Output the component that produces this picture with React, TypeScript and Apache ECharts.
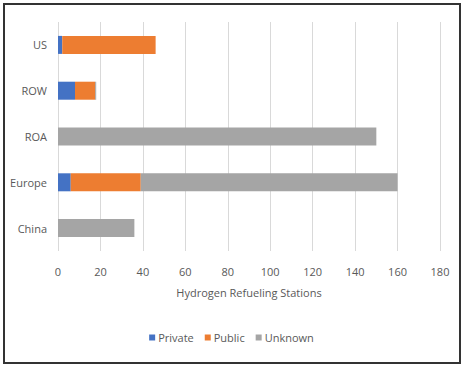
import React, { useEffect, useRef } from "react";
import * as echarts from "echarts";

const categories = ["China", "Europe", "ROA", "ROW", "US"];
const privateValues = [0, 6, 0, 8, 2];
const publicValues = [0, 33, 0, 9.5, 44];
const unknownValues = [36, 121, 150, 0.5, 0];
const seriesNames = ["Private", "Public", "Unknown"];
const colors = ["#4472C4", "#ED7D31", "#A5A5A5"];

const FONT = "'Open Sans', sans-serif";

export default function App() {
  const ref = useRef<HTMLDivElement>(null);
  useEffect(() => {
    if (!ref.current) return;
    const chart = echarts.init(ref.current, undefined, { renderer: "svg" });
    const values = [privateValues, publicValues, unknownValues];
    chart.setOption({
      animation: false,
      textStyle: { fontFamily: FONT },
      graphic: [
        {
          type: "rect",
          shape: { x: 4, y: 4, width: 456, height: 359 },
          style: { fill: "none", stroke: "#333", lineWidth: 2 },
          silent: true,
        },
      ],
      grid: { left: 58, right: 23, top: 22, bottom: 118 },
      legend: {
        data: seriesNames,
        bottom: 21,
        left: "center",
        itemWidth: 6,
        itemHeight: 6,
        itemGap: 11,
        icon: "rect",
        textStyle: { color: "#595959", fontSize: 11, fontFamily: FONT, padding: [0, 0, 0, -2] },
      },
      xAxis: {
        type: "value",
        min: 0,
        max: 180,
        interval: 20,
        name: "Hydrogen Refueling Stations",
        nameLocation: "middle",
        nameGap: 36,
        nameTextStyle: { color: "#595959", fontSize: 11, fontFamily: FONT },
        axisLine: { show: false },
        axisTick: { show: false },
        axisLabel: { color: "#595959", fontSize: 11, margin: 15, fontFamily: FONT },
        splitLine: { lineStyle: { color: "#D9D9D9", width: 1 } },
      },
      yAxis: {
        type: "category",
        data: categories,
        axisLine: { show: false },
        axisTick: { show: false },
        axisLabel: { color: "#595959", fontSize: 11, margin: 11, fontFamily: FONT },
        splitLine: { show: false },
      },
      series: seriesNames.map((name, i) => ({
        name,
        type: "bar",
        stack: "total",
        barWidth: 18,
        itemStyle: { color: colors[i] },
        data: values[i],
      })),
    });
    return () => chart.dispose();
  }, []);
  return (
    <div
      ref={ref}
      style={{ position: "absolute", left: 0, top: 0, width: 463, height: 369, background: "#fff" }}
    />
  );
}
